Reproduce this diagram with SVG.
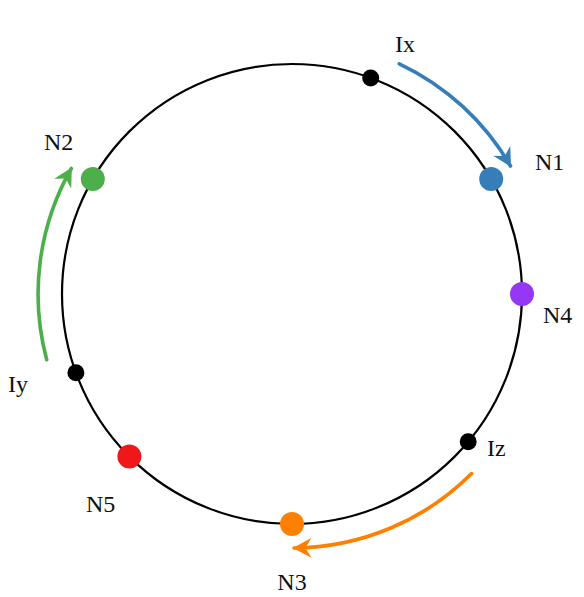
<svg xmlns="http://www.w3.org/2000/svg" width="584" height="597" viewBox="0 0 584 597">
<style>
text{font-family:'Liberation Serif','Times New Roman',serif;font-size:24px;fill:#111}
.ring{fill:none;stroke:#000;stroke-width:2.2}
.arr{fill:none;stroke-width:3.6;stroke-linecap:round}
</style>
<defs>
<marker id="hb" markerUnits="userSpaceOnUse" markerWidth="24" markerHeight="24" refX="0" refY="0" viewBox="-20 -10 22 20" orient="auto" overflow="visible"><path d="M1,0 L-16,-9 L-10.5,0 L-16,9 Z" fill="#377eb8"/></marker>
<marker id="hg" markerUnits="userSpaceOnUse" markerWidth="24" markerHeight="24" refX="0" refY="0" viewBox="-20 -10 22 20" orient="auto" overflow="visible"><path d="M1,0 L-16,-9 L-10.5,0 L-16,9 Z" fill="#4daf4a"/></marker>
<marker id="ho" markerUnits="userSpaceOnUse" markerWidth="24" markerHeight="24" refX="0" refY="0" viewBox="-20 -10 22 20" orient="auto" overflow="visible"><path d="M1,0 L-16,-9 L-10.5,0 L-16,9 Z" fill="#ff7f00"/></marker>
</defs>
<circle class="ring" cx="292" cy="294" r="230"/>
<g id="connectors">
<path class="arr" stroke="#377eb8" d="M399.3,63.8 A254,254 0 0 1 510.5,166" marker-end="url(#hb)"/>
<path class="arr" stroke="#4daf4a" d="M46.7,359.7 A254,254 0 0 1 71.3,168.5" marker-end="url(#hg)"/>
<path class="arr" stroke="#ff7f00" d="M471.6,473.6 A254,254 0 0 1 294,548" marker-end="url(#ho)"/>
</g>
<g id="Ix"><circle cx="370.7" cy="77.9" r="8.5" fill="#000"/><text x="395" y="52">Ix</text></g>
<g id="N1"><circle cx="491.2" cy="179" r="12" fill="#377eb8"/><text x="535" y="170">N1</text></g>
<g id="N4"><circle cx="522" cy="294" r="12" fill="#9537f5"/><text x="543" y="323">N4</text></g>
<g id="Iz"><circle cx="468.2" cy="441.8" r="8.5" fill="#000"/><text x="487" y="456">Iz</text></g>
<g id="N3"><circle cx="292" cy="524" r="12" fill="#ff7f00"/><text x="292" y="590" text-anchor="middle">N3</text></g>
<g id="N5"><circle cx="129.4" cy="456.6" r="12" fill="#f0171a"/><text x="86" y="512">N5</text></g>
<g id="Iy"><circle cx="75.9" cy="372.7" r="8.5" fill="#000"/><text x="8" y="392">Iy</text></g>
<g id="N2"><circle cx="92.8" cy="179" r="12" fill="#4daf4a"/><text x="44" y="150">N2</text></g>
</svg>
